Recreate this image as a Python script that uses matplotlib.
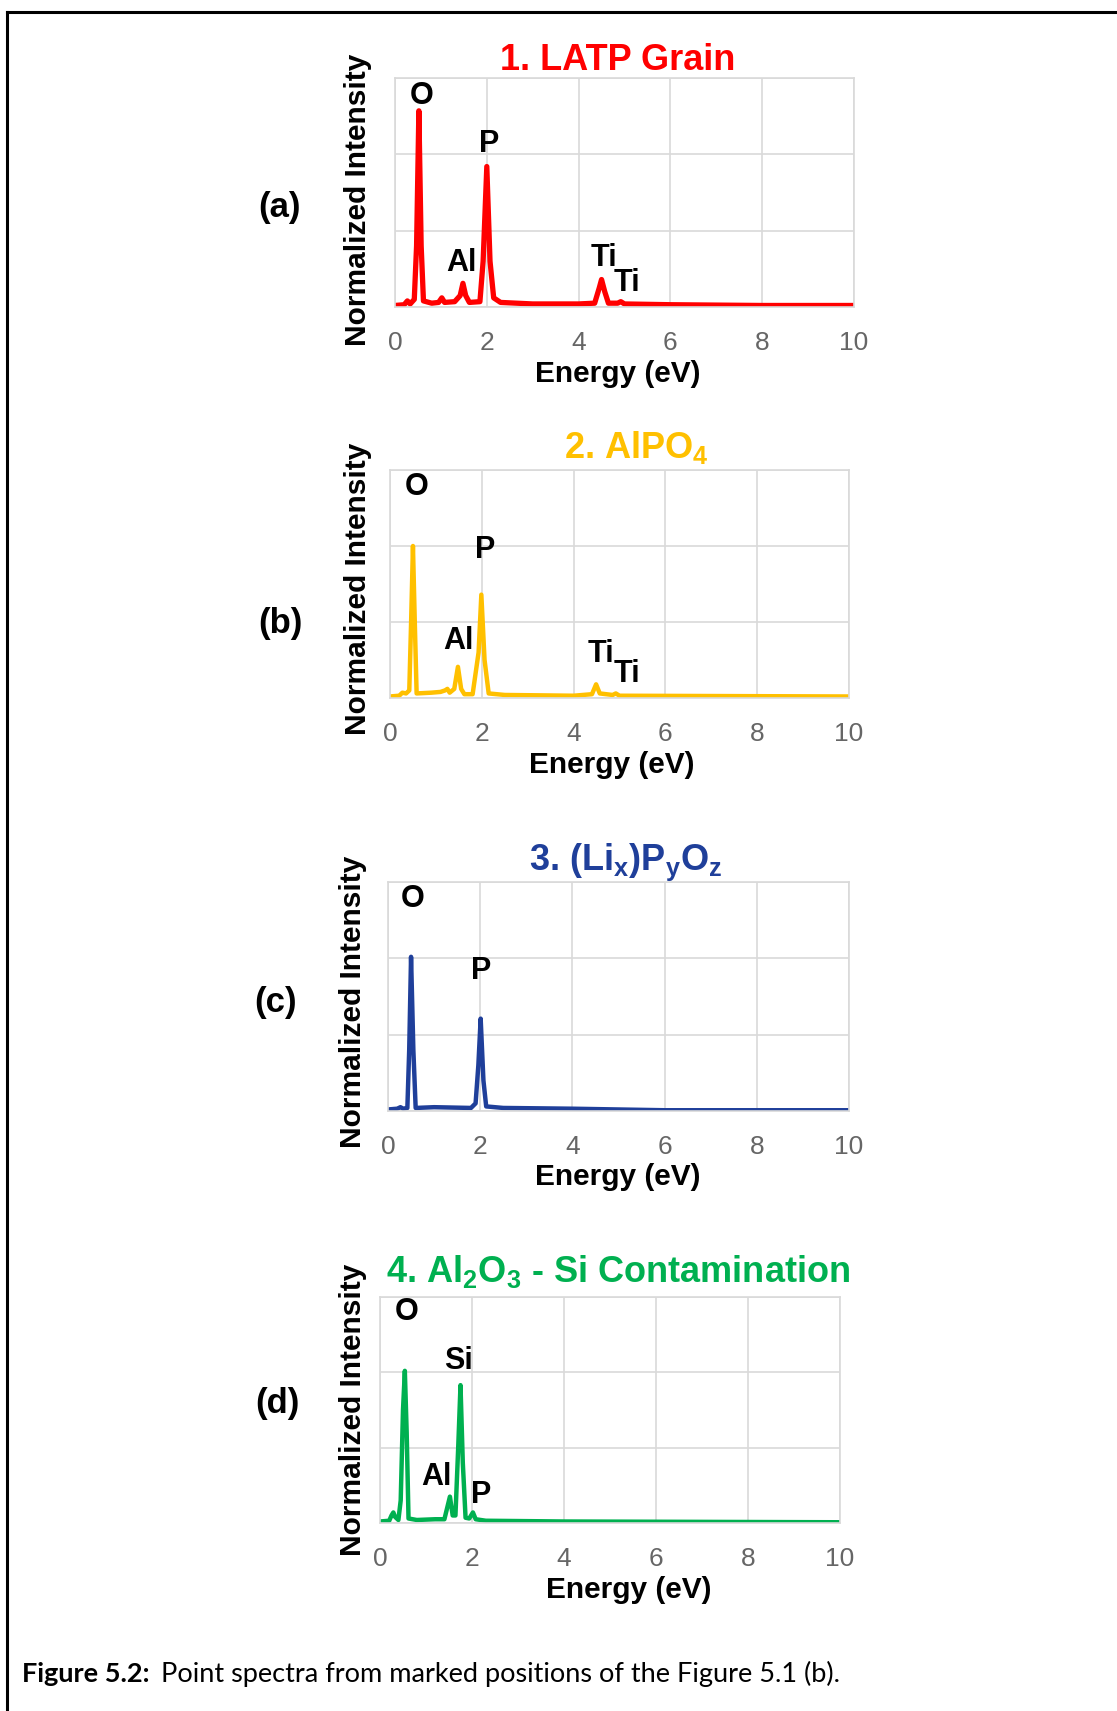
import numpy as np
import matplotlib
matplotlib.use("Agg")
import matplotlib.pyplot as plt
from matplotlib.lines import Line2D

plt.rcParams['font.family'] = ['Liberation Sans', 'DejaVu Sans']
plt.rcParams['mathtext.fontset'] = 'custom'
plt.rcParams['mathtext.rm'] = 'Liberation Sans:bold'
plt.rcParams['mathtext.it'] = 'Liberation Sans:bold'
plt.rcParams['mathtext.bf'] = 'Liberation Sans:bold'

W, H = 1117, 1711

# ---- spectra: (energy eV, normalized intensity) ----
energy_a = [0, 0.2, 0.27, 0.33, 0.42, 0.47, 0.52, 0.57, 0.62, 0.8, 0.95, 1.02, 1.08,
            1.3, 1.42, 1.48, 1.54, 1.62, 1.85, 1.92, 2.0, 2.07, 2.15, 2.3, 3.0, 4.0,
            4.35, 4.45, 4.5, 4.57, 4.65, 4.85, 4.92, 5.0, 6.0, 8.0, 10.0]
inten_a = [0.02, 0.03, 0.08, 0.04, 0.1, 0.8, 2.57, 0.8, 0.08, 0.05, 0.06, 0.12, 0.06,
           0.07, 0.15, 0.31, 0.15, 0.06, 0.07, 0.6, 1.84, 0.6, 0.12, 0.06, 0.04, 0.04,
           0.05, 0.25, 0.36, 0.2, 0.05, 0.05, 0.07, 0.04, 0.03, 0.02, 0.02]

energy_b = [0, 0.2, 0.27, 0.35, 0.42, 0.46, 0.5, 0.54, 0.58, 0.9, 1.1, 1.2, 1.25, 1.3,
            1.4, 1.48, 1.55, 1.62, 1.8, 1.93, 1.99, 2.06, 2.15, 2.5, 4.0, 4.4, 4.49,
            4.57, 4.85, 4.92, 5.0, 10.0]
inten_b = [0.02, 0.03, 0.07, 0.06, 0.1, 1.0, 2.0, 1.0, 0.06, 0.07, 0.08, 0.1, 0.12, 0.07,
           0.12, 0.41, 0.12, 0.05, 0.05, 0.6, 1.36, 0.5, 0.06, 0.04, 0.03, 0.05, 0.18,
           0.06, 0.04, 0.06, 0.03, 0.02]

energy_c = [0, 0.2, 0.27, 0.33, 0.42, 0.46, 0.5, 0.55, 0.6, 1.0, 1.8, 1.9, 1.96, 2.01,
            2.07, 2.13, 2.5, 4.0, 6.0, 10.0]
inten_c = [0.02, 0.03, 0.05, 0.03, 0.04, 0.8, 2.02, 0.8, 0.04, 0.05, 0.04, 0.1, 0.6, 1.21,
           0.4, 0.06, 0.04, 0.03, 0.01, 0.01]

energy_d = [0, 0.2, 0.25, 0.29, 0.33, 0.4, 0.45, 0.5, 0.54, 0.58, 0.62, 0.8, 1.2, 1.4,
            1.46, 1.52, 1.58, 1.64, 1.7, 1.75, 1.8, 1.86, 1.94, 2.02, 2.08, 2.3, 4.0, 10.0]
inten_d = [0.02, 0.03, 0.1, 0.14, 0.08, 0.04, 0.3, 1.5, 2.02, 1.2, 0.06, 0.04, 0.05, 0.05,
           0.2, 0.35, 0.1, 0.1, 1.0, 1.83, 0.8, 0.07, 0.06, 0.14, 0.05, 0.03, 0.02, 0.01]

# peak labels: (text, energy, intensity)
peaks_a = [('O', 0.57, 2.76), ('P', 2.05, 2.13), ('Al', 1.44, 0.57),
           ('Ti', 4.55, 0.64), ('Ti', 5.05, 0.31)]
peaks_b = [('O', 0.57, 2.78), ('P', 2.08, 1.95), ('Al', 1.49, 0.75),
           ('Ti', 4.59, 0.58), ('Ti', 5.17, 0.31)]
peaks_c = [('O', 0.53, 2.78), ('P', 2.02, 1.84)]
peaks_d = [('O', 0.57, 2.8), ('Si', 1.70, 2.15), ('Al', 1.22, 0.61), ('P', 2.2, 0.37)]

titles = ['1. LATP Grain', r'2. AlPO$_4$', r'3. (Li$_x$)P$_y$O$_z$',
          r'4. Al$_2$O$_3$ - Si Contamination']
letters = ['(a)', '(b)', '(c)', '(d)']
colors = ['#FF0000', '#FFC000', '#1F3F9A', '#00B050']
xticks = [0, 2, 4, 6, 8, 10]

# layout in pixels of the original image
boxes = [(395, 854, 78, 307), (390, 849, 470, 698), (388, 849, 882, 1111), (380, 840, 1297, 1523)]
title_pos = [(618, 60), (636, 447), (626, 862), (618, 1272)]
xlab_pos = [(618, 374), (612, 765), (618, 1177), (629, 1590)]
ylab_pos = [(358, 200), (358, 589), (353, 1002), (353, 1410)]
letter_pos = [(280, 207), (280, 624), (276, 1003), (277, 1404)]
lws = [3.8, 3.2, 3.2, 3.2]


def fx(x):
    return x / W


def fy(y):
    return 1 - y / H


fig = plt.figure(figsize=(W / 100, H / 100), dpi=100)

spectra = [(energy_a, inten_a, peaks_a), (energy_b, inten_b, peaks_b),
           (energy_c, inten_c, peaks_c), (energy_d, inten_d, peaks_d)]

for i, (ex, iy, pk) in enumerate(spectra):
    l, r, t, b = boxes[i]
    ax = fig.add_axes([fx(l), fy(b), (r - l) / W, (b - t) / H])
    ax.plot(ex, iy, color=colors[i], lw=lws[i], solid_joinstyle='round')
    ax.set_xlim(0, 10)
    ax.set_ylim(0, 3)
    ax.set_xticks(xticks)
    ax.set_xticklabels([str(v) for v in xticks])
    ax.set_yticks([0, 1, 2, 3])
    ax.set_yticklabels([])
    ax.grid(True, color='#D9D9D9', lw=1.2)
    ax.set_axisbelow(True)
    ax.tick_params(length=0, labelsize=19, labelcolor='#666666', pad=17)
    for s in ax.spines.values():
        s.set_color('#D9D9D9')
        s.set_linewidth(1.2)
    for txt, px_, py_ in pk:
        ax.text(px_, py_, txt, ha='center', va='center', fontsize=22,
                fontweight='bold', color='black')

    fig.text(fx(title_pos[i][0]), fy(title_pos[i][1]), titles[i], ha='center', va='center',
             fontsize=26, fontweight='bold', color=colors[i])
    fig.text(fx(xlab_pos[i][0]), fy(xlab_pos[i][1]), 'Energy (eV)', ha='center', va='center',
             fontsize=21.5, fontweight='bold')
    fig.text(fx(ylab_pos[i][0]), fy(ylab_pos[i][1]), 'Normalized Intensity', ha='center',
             va='center', rotation=90, fontsize=21.5, fontweight='bold')
    fig.text(fx(letter_pos[i][0]), fy(letter_pos[i][1]), letters[i], ha='center', va='center',
             fontsize=25, fontweight='bold')

# frame lines (top and left)
fig.add_artist(Line2D([fx(7), 1], [fy(12), fy(12)], color='black', lw=2.2))
fig.add_artist(Line2D([fx(7), fx(7)], [fy(12), 0], color='black', lw=2.2))

# caption
cap1 = fig.text(fx(22), fy(1674), 'Figure 5.2:', ha='left', va='center', fontsize=19.5,
                fontweight='bold', family=['Lato', 'DejaVu Sans'])
fig.canvas.draw()
bb = cap1.get_window_extent(renderer=fig.canvas.get_renderer())
fig.text(bb.x1 / W + fx(11), fy(1674), 'Point spectra from marked positions of the Figure 5.1 (b).',
         ha='left', va='center', fontsize=19.5, family=['Lato', 'DejaVu Sans'])

plt.savefig('out.png', dpi=100)
